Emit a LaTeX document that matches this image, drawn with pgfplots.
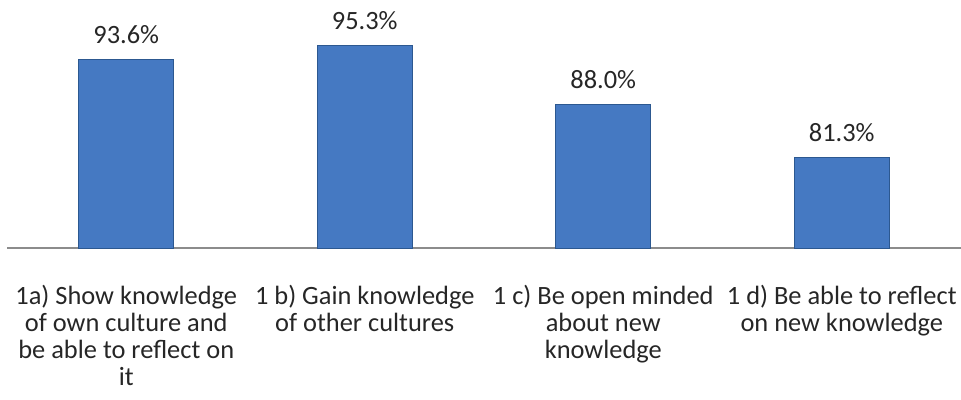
\documentclass[border=0pt]{standalone}
\usepackage{pgfplots}
\pgfplotsset{compat=1.18}
\usepackage{fontspec}
\setmainfont{Carlito}
\definecolor{barmid}{HTML}{4579C2}
\definecolor{baredge}{HTML}{2C5890}
\definecolor{axisgray}{HTML}{8C8C8C}
\begin{document}
\begin{tikzpicture}
\begin{axis}[
  width=954bp, height=240bp, scale only axis,
  ymin=70, ymax=100, xmin=-0.5, xmax=3.5,
  axis x line*=bottom, axis y line=none,
  x axis line style={draw=axisgray, line width=1.2bp, -},
  xtick=data, major tick length=0pt,
  xticklabels={{1a) Show knowledge\\of own culture and\\be able to reflect on\\it},
               {1 b) Gain knowledge\\of other cultures},
               {1 c) Be open minded\\about new\\knowledge},
               {1 d) Be able to reflect\\on new knowledge}},
  xticklabel style={align=center, font=\fontsize{26.5}{27}\selectfont, yshift=-34bp, text=black!85},
  ybar, bar width=95bp,
  /pgf/number format/assume math mode=true,
  nodes near coords={\pgfmathprintnumber[fixed,fixed zerofill,precision=1,assume math mode=true]{\pgfplotspointmeta}\%},
  nodes near coords style={font=\fontsize{26.5}{28}\selectfont, anchor=base, yshift=16bp, text=black!85, inner sep=0pt},
  clip=false,
]
\addplot[draw=baredge, line width=0.8bp, fill=barmid]
  coordinates {(0,93.6) (1,95.3) (2,88.0) (3,81.3)};
\end{axis}
\pgfresetboundingbox
\path (-7bp,-152bp) rectangle (954bp,248bp);
\end{tikzpicture}
\end{document}
